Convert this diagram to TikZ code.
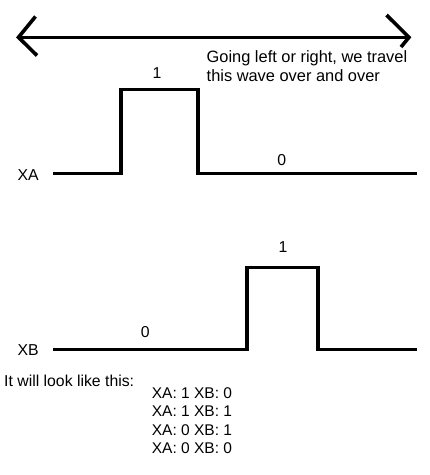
\documentclass[tikz,border=0pt]{standalone}
\usepackage{fontspec}
\setmainfont{Liberation Sans}
\begin{document}
\begin{tikzpicture}[x=1pt,y=-1pt,
  wave/.style={line width=3.6pt,line join=miter},
  arr/.style={line width=3.6pt,line join=miter},
  lbl/.style={font=\fontsize{15.8}{19.5}\selectfont,inner sep=0pt},
  big/.style={font=\fontsize{16.4}{19.5}\selectfont,inner sep=0pt},
  lst/.style={font=\fontsize{15.5}{16.7}\selectfont,inner sep=0pt}]
\useasboundingbox (0,0) rectangle (430,475);
% arrow
\coordinate (lt) at (18.5,37.3);
\coordinate (rt) at (409,37.3);
\coordinate (lu) at (35.5,16.5);
\coordinate (ld) at (37,55.5);
\coordinate (ru) at (386.5,15);
\coordinate (rd) at (401,47);
\draw[arr] (lt) -- (rt);
\draw[arr] (lu) -- (lt) -- (ld);
\draw[arr] (ru) -- (rt) -- (rd);
\node[big,anchor=base west] (note1) at (206.5,62) {Going left or right, we travel};
\node[big,anchor=base west] (note2) at (206.5,81.5) {this wave over and over};
% XA
\coordinate (a0) at (53,173.5);
\coordinate (a1) at (121,173.5);
\coordinate (a2) at (121,89.3);
\coordinate (a3) at (198,89.3);
\coordinate (a4) at (198,173.5);
\coordinate (a5) at (417,173.5);
\draw[wave] (a0) -- (a1) -- (a2) -- (a3) -- (a4) -- (a5);
\node[lbl,anchor=base west] (xa) at (17.3,180) {XA};
\node[lbl,anchor=base] (xa1) at (157,78.5) {1};
\node[lbl,anchor=base] (xa0) at (281.7,165) {0};
% XB
\coordinate (b0) at (53,349.3);
\coordinate (b1) at (246.7,349.3);
\coordinate (b2) at (246.7,267.3);
\coordinate (b3) at (317.7,267.3);
\coordinate (b4) at (317.7,349.3);
\coordinate (b5) at (417,349.3);
\draw[wave] (b0) -- (b1) -- (b2) -- (b3) -- (b4) -- (b5);
\node[lbl,anchor=base west] (xb) at (17.3,355) {XB};
\node[lbl,anchor=base] (xb1) at (283,252) {1};
\node[lbl,anchor=base] (xb0) at (145.3,337) {0};
% bottom text
\node[lbl,anchor=base west] (look) at (4,386.5) {It will look like this:};
\node[lst,anchor=base west] (l1) at (151.7,398.5) {XA: 1 XB: 0};
\node[lst,anchor=base west] (l2) at (151.7,416.8) {XA: 1 XB: 1};
\node[lst,anchor=base west] (l3) at (151.7,435.1) {XA: 0 XB: 1};
\node[lst,anchor=base west] (l4) at (151.7,453.4) {XA: 0 XB: 0};
\end{tikzpicture}
\end{document}
